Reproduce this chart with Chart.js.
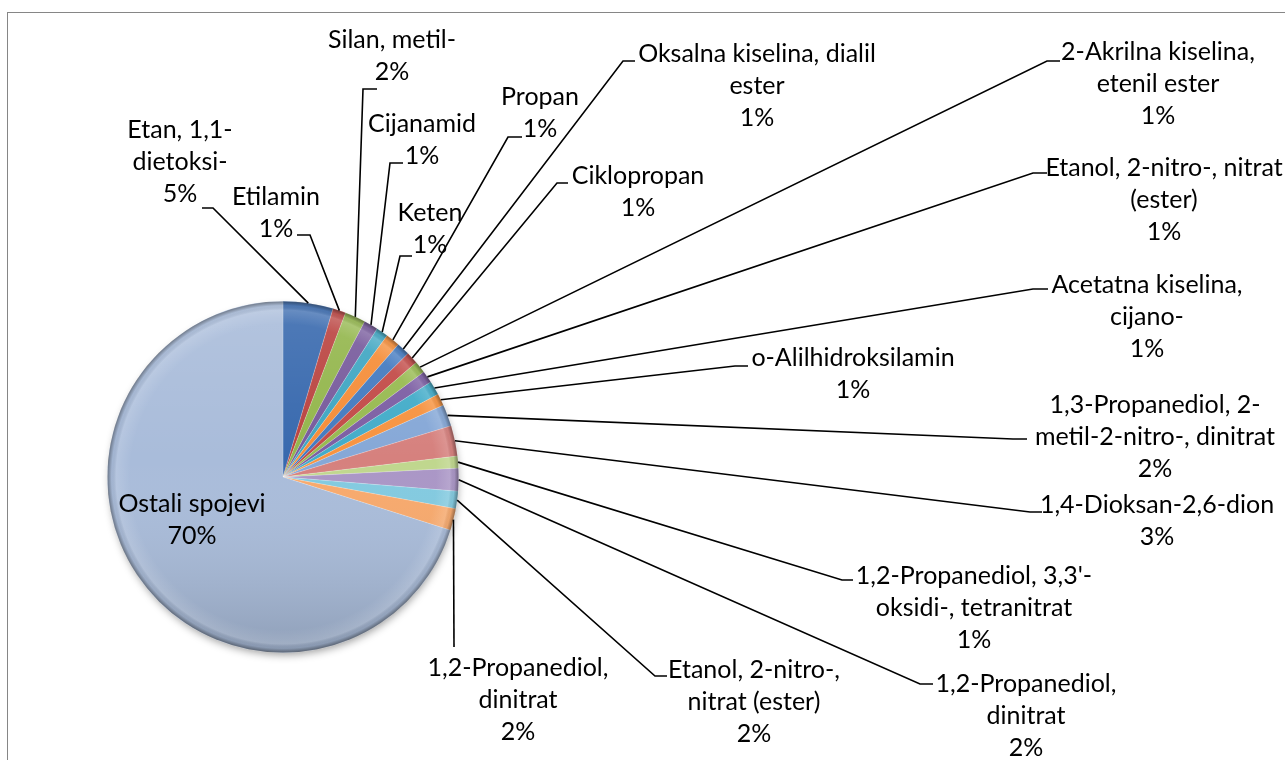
<!DOCTYPE html>
<html>
<head>
<meta charset="utf-8">
<script src="https://cdn.jsdelivr.net/npm/chart.js@4.4.1/dist/chart.umd.min.js"></script>
<style>
html, body { margin: 0; padding: 0; background: #fff; }
#wrap { position: relative; width: 1285px; height: 760px; }
</style>
</head>
<body>
<div id="wrap"><canvas id="pieChart"></canvas></div>
<script>
// category names, already split the way the labels wrap
const categories = [
    ['Etan, 1,1-', 'dietoksi-'],
    ['Etilamin'],
    ['Silan, metil-'],
    ['Cijanamid'],
    ['Keten'],
    ['Propan'],
    ['Oksalna kiselina, dialil', 'ester'],
    ['Ciklopropan'],
    ['2-Akrilna kiselina,', 'etenil ester'],
    ['Etanol, 2-nitro-, nitrat', '(ester)'],
    ['Acetatna kiselina,', 'cijano-'],
    ['o-Alilhidroksilamin'],
    ['1,3-Propanediol, 2-', 'metil-2-nitro-, dinitrat'],
    ['1,4-Dioksan-2,6-dion'],
    ["1,2-Propanediol, 3,3'-", 'oksidi-, tetranitrat'],
    ['1,2-Propanediol,', 'dinitrat'],
    ['Etanol, 2-nitro-,', 'nitrat (ester)'],
    ['1,2-Propanediol,', 'dinitrat'],
    ['Ostali spojevi']
];
const shares = [4.6, 1.2, 1.9, 1.3, 1.1, 1.3, 1.2, 1.1, 1.1, 1.1, 1.3, 1.1, 2.0, 2.8, 1.1, 2.1, 1.6, 2.0, 70.1];

const sliceColors = [
    '#3869AE', '#BA4340', '#93B64C', '#775A9C', '#3FA6C2', '#F58D38',
    '#437AC0', '#C24A47', '#97BA50', '#7C5EA3', '#43ACC9', '#F79340',
    '#86A8D7', '#D6817E', '#C0D78E', '#AA96C6', '#82CAE0', '#F8A96C',
    '#A9BCDA'
];

// label placement: [center x, first line y]
const labelPos = [
    [180, 130], [276, 197], [392, 40], [422, 124], [430, 213], [540, 97],
    [757, 54], [638, 176], [1158, 52], [1164, 168], [1147, 285], [853, 358],
    [1155, 405], [1157, 505], [974, 576], [1026, 684], [754, 670], [518, 668],
    [192, 504]
];
// leader: [elbow x, elbow y, tick end x]
const leaderPos = [
    [213, 208, 202], [310, 235, 297], [363, 89, 377], [390, 163, 403], [400, 256, 412], [508, 137, 522],
    [623, 61, 635], [557, 183, 568], [1047, 61, 1060], [1033, 173, 1047], [1033, 289, 1048], [735, 366, 748],
    [1013, 439, 1027], [1030, 512, 1042], [842, 580, 853], [920, 684, 933], [655, 676, 667], [454, 647, 454],
    null
];

const FONT = '25px Lato';
const LINE_GAP = 32;

const framePlugin = {
    id: 'frame',
    beforeDraw(chart) {
        const ctx = chart.ctx;
        ctx.save();
        ctx.strokeStyle = '#868686';
        ctx.lineWidth = 1;
        ctx.strokeRect(7.5, 12.5, 1400, 900);
        ctx.restore();
    }
};

const bevelPlugin = {
    id: 'bevel',
    beforeDatasetsDraw(chart) {
        const arc = chart.getDatasetMeta(0).data[0];
        if (!arc) return;
        const ctx = chart.ctx;
        ctx.save();
        ctx.shadowColor = 'rgba(0,0,0,0.4)';
        ctx.shadowBlur = 9;
        ctx.shadowOffsetX = 1;
        ctx.shadowOffsetY = 4;
        ctx.fillStyle = '#fff';
        ctx.beginPath();
        ctx.arc(arc.x, arc.y, arc.outerRadius - 2, 0, Math.PI * 2);
        ctx.fill();
        ctx.restore();
    },
    afterDatasetsDraw(chart) {
        const arc = chart.getDatasetMeta(0).data[0];
        if (!arc) return;
        const ctx = chart.ctx;
        const cx = arc.x, cy = arc.y, r = arc.outerRadius;
        ctx.save();
        ctx.beginPath();
        ctx.arc(cx, cy, r, 0, Math.PI * 2);
        ctx.clip();
        const lg = ctx.createLinearGradient(0, cy - r, 0, cy + r);
        lg.addColorStop(0, 'rgba(255,255,255,0.12)');
        lg.addColorStop(0.45, 'rgba(255,255,255,0)');
        lg.addColorStop(1, 'rgba(0,0,0,0.16)');
        ctx.fillStyle = lg;
        ctx.fillRect(cx - r, cy - r, 2 * r, 2 * r);
        const rg = ctx.createRadialGradient(cx, cy, 0, cx, cy, r);
        rg.addColorStop(0, 'rgba(255,255,255,0)');
        rg.addColorStop(0.87, 'rgba(255,255,255,0)');
        rg.addColorStop(0.95, 'rgba(255,255,255,0.14)');
        rg.addColorStop(0.975, 'rgba(0,0,0,0.04)');
        rg.addColorStop(1, 'rgba(0,0,0,0.38)');
        ctx.fillStyle = rg;
        ctx.fillRect(cx - r, cy - r, 2 * r, 2 * r);
        ctx.restore();
    }
};

const labelPlugin = {
    id: 'excelLabels',
    afterDraw(chart) {
        const ctx = chart.ctx;
        const meta = chart.getDatasetMeta(0);
        const total = shares.reduce((a, b) => a + b, 0);
        ctx.save();
        ctx.strokeStyle = '#000';
        ctx.lineWidth = 1.6;
        meta.data.forEach((arc, i) => {
            const lead = leaderPos[i];
            if (!lead) return;
            const mid = (arc.startAngle + arc.endAngle) / 2;
            const px = arc.x + arc.outerRadius * Math.cos(mid);
            const py = arc.y + arc.outerRadius * Math.sin(mid);
            ctx.beginPath();
            ctx.moveTo(px, py);
            ctx.lineTo(lead[0], lead[1]);
            ctx.lineTo(lead[2], lead[1]);
            ctx.stroke();
        });
        ctx.fillStyle = '#000';
        ctx.font = FONT;
        ctx.textAlign = 'center';
        ctx.textBaseline = 'middle';
        categories.forEach((name, i) => {
            const pct = Math.round(shares[i] / total * 100) + '%';
            const lines = name.concat([pct]);
            const [x, y] = labelPos[i];
            lines.forEach((t, k) => ctx.fillText(t, x, y + k * LINE_GAP));
        });
        ctx.restore();
    }
};

new Chart(document.getElementById('pieChart'), {
    type: 'pie',
    data: {
        labels: categories,
        datasets: [{
            data: shares,
            backgroundColor: sliceColors,
            borderColor: 'rgba(255,255,255,0.3)',
            borderWidth: 0.6
        }]
    },
    options: {
        responsive: true,
        maintainAspectRatio: false,
        animation: false,
        layout: { padding: { left: 107, top: 301, right: 826, bottom: 107 } },
        plugins: { legend: { display: false }, tooltip: { enabled: false } }
    },
    plugins: [framePlugin, bevelPlugin, labelPlugin]
});
</script>
</body>
</html>
